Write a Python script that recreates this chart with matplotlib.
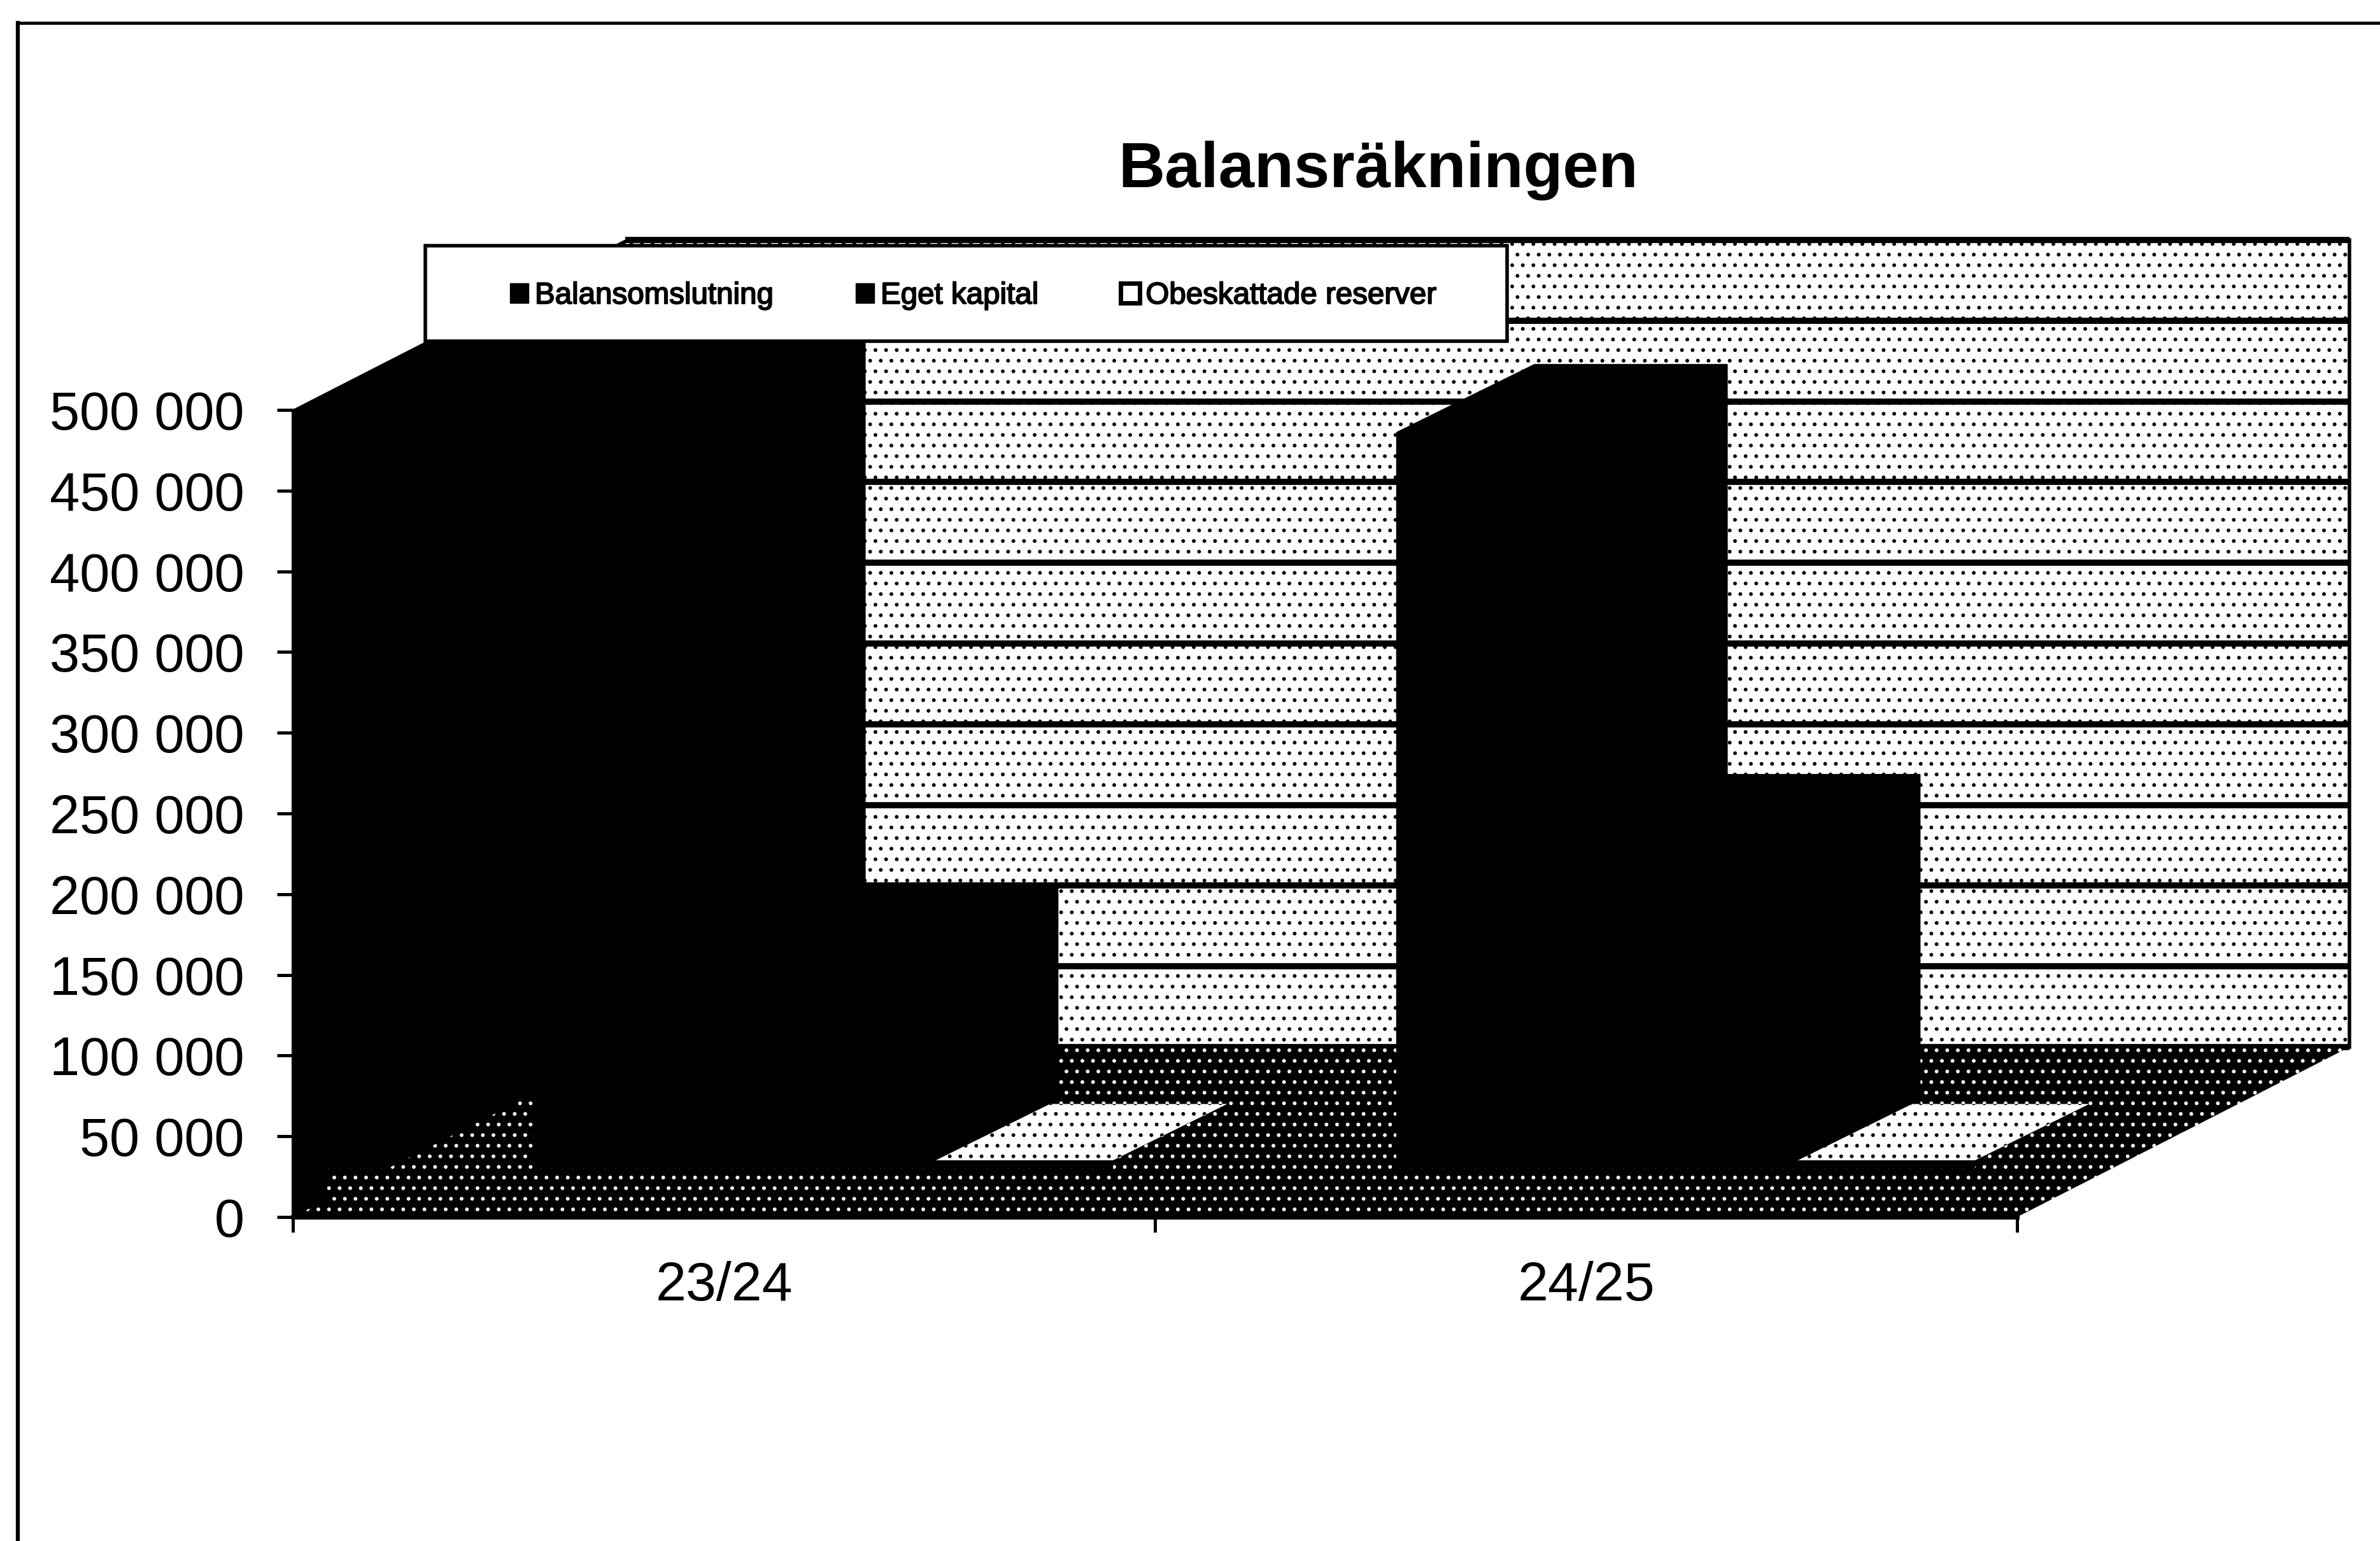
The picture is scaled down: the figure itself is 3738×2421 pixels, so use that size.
import matplotlib
matplotlib.use("Agg")
import matplotlib.pyplot as plt
import matplotlib.patheffects as pe
from matplotlib.patches import Polygon, Patch, Rectangle
from matplotlib.lines import Line2D

# ---- data
categories = ["23/24", "24/25"]
balansomslutning = [522000, 486000]
eget_kapital = [164000, 232000]
obeskattade_reserver = [35000, 35000]
series_names = ["Balansomslutning", "Eget kapital", "Obeskattade reserver"]
value_ticks = [0, 50000, 100000, 150000, 200000, 250000, 300000, 350000, 400000, 450000, 500000]
value_labels = ["0", "50 000", "100 000", "150 000", "200 000", "250 000",
                "300 000", "350 000", "400 000", "450 000", "500 000"]
title_text = "Balansräkningen"

W, H = 3738, 2421
plt.rcParams["font.family"] = ["Liberation Sans", "DejaVu Sans"]
plt.rcParams["hatch.linewidth"] = 1.8

fig = plt.figure(figsize=(W / 100, H / 100), dpi=100, facecolor="white")
# axes rectangle = front plane of the 3-D plot
ax = fig.add_axes([460 / W, 1 - 1912 / H, 2708 / W, 1268 / H])
ax.set_xlim(0, 2)
ax.set_ylim(0, 500000)
ax.patch.set_visible(False)

# 3-D depth, in data units
DX = 522 / 1354
DY = 267 / 1268 * 500000
BAR_DX = 217 / 1354
BAR_DY = 107 / 1268 * 500000
BAR_START = 0.28
BAR_W = 0.2236
FLOOR_FRONT = (3500, 30000)
TOP_INSET = 0.018
TOP_DEPTH = 0.83


def poly(pts, fc, ec="black", lw=0.0, hatch=None, z=1):
    p = Polygon(pts, closed=True, facecolor=fc, edgecolor=ec, linewidth=lw,
                hatch=hatch, clip_on=False, zorder=z)
    ax.add_patch(p)
    return p


# back wall
poly([(DX, DY), (2 + DX, DY), (2 + DX, 500000 + DY), (DX, 500000 + DY)], "white",
     ec="black", hatch=".", z=1)
# gridlines on the back wall
for v in value_ticks:
    ax.plot([DX, 2 + DX], [v + DY, v + DY], color="black", lw=7, clip_on=False,
            solid_capstyle="butt", zorder=1.5)
ax.plot([2 + DX, 2 + DX], [DY, 500000 + DY], color="black", lw=4, clip_on=False, zorder=1.5)
# side wall
poly([(0, 0), (0, 500000), (DX, 500000 + DY), (DX, DY)], "black", lw=1, z=2)
# floor
poly([(0, 0), (2, 0), (2 + DX, DY), (DX, DY)], "black", ec="white", hatch=".", z=2)

# bars
z = 3
for c in range(2):
    values = [balansomslutning[c], eget_kapital[c], obeskattade_reserver[c]]
    for s, v in enumerate(values):
        x0 = c + BAR_START + s * BAR_W
        x1 = x0 + BAR_W
        light = s == 2
        # right side
        if light:
            poly([(x1, 0), (x1 + BAR_DX, BAR_DY), (x1 + BAR_DX, v + BAR_DY), (x1, v)],
                 "black", ec="white", hatch=".", z=z)
            # top, with the dark rim the reference shows round it
            poly([(x0 + TOP_INSET, v), (x1, v),
                  (x1 + TOP_DEPTH * BAR_DX, v + TOP_DEPTH * BAR_DY),
                  (x0 + TOP_INSET + TOP_DEPTH * BAR_DX, v + TOP_DEPTH * BAR_DY)],
                 "white", ec="black", hatch=".", z=z)
        else:
            poly([(x1, 0), (x1 + BAR_DX, BAR_DY), (x1 + BAR_DX, v + BAR_DY), (x1, v)],
                 "black", lw=1, z=z)
            poly([(x0, v), (x1, v), (x1 + BAR_DX, v + BAR_DY), (x0 + BAR_DX, v + BAR_DY)],
                 "black", lw=1, z=z)
        # front
        poly([(x0, 0), (x1, 0), (x1, v), (x0, v)], "black", lw=1, z=z)
        z += 1

# stippled front edge of the floor, running across the plot
ax.add_patch(Rectangle((0.04, FLOOR_FRONT[0]), 1.96, FLOOR_FRONT[1] - FLOOR_FRONT[0],
                       facecolor="black", edgecolor="white", linewidth=0, hatch=".",
                       clip_on=False, zorder=z))
ax.plot([0, 2], [0, 0], color="black", lw=5, clip_on=False, zorder=z + 1)

# axes furniture
for name in ["top", "right"]:
    ax.spines[name].set_visible(False)
ax.spines["left"].set_linewidth(3.6)
ax.spines["bottom"].set_linewidth(3.6)
ax.set_yticks(value_ticks)
ax.set_yticklabels(value_labels, fontsize=61)
ax.tick_params(axis="y", length=18, width=3.6, pad=37, color="black")
ax.set_xticks([0, 1, 2])
ax.set_xticklabels([])
ax.tick_params(axis="x", which="major", length=17, width=3.6)
ax.set_xticks([0.5, 1.5], minor=True)
ax.set_xticklabels(categories, minor=True, fontsize=62)
ax.tick_params(axis="x", which="minor", length=0, pad=50)

# title
fig.text(2165 / W, 1 - 268 / H, title_text, fontsize=73, fontweight="bold",
         ha="center", va="center")

# legend box
box = Rectangle((668 / W, 1 - 536 / H), 1699 / W, 150 / H, transform=fig.transFigure,
                facecolor="white", edgecolor="black", linewidth=4, zorder=50)
fig.add_artist(box)
handles = [Patch(facecolor="black", edgecolor="black"),
           Patch(facecolor="black", edgecolor="black"),
           Patch(facecolor="white", edgecolor="black", linewidth=5)]
leg = fig.legend(handles, series_names, loc="center left",
                 bbox_to_anchor=(801 / W, 1 - 465 / H), ncol=3, frameon=False,
                 fontsize=34.2, borderpad=0, borderaxespad=0, handlelength=0.62,
                 handleheight=0.62, handletextpad=0.2, columnspacing=2.72)
leg.set_zorder(60)
for t in leg.get_texts():
    t.set_path_effects([pe.withStroke(linewidth=1.4, foreground="black")])

# scan frame
fig.add_artist(Line2D([28 / W, 28 / W], [0, 1 - 36 / H], color="black", lw=4.5,
                      transform=fig.transFigure))
fig.add_artist(Line2D([28 / W, 1], [1 - 36 / H, 1 - 36 / H], color="black", lw=3.5,
                      transform=fig.transFigure))

fig.savefig("out.png", dpi=100, facecolor="white")
